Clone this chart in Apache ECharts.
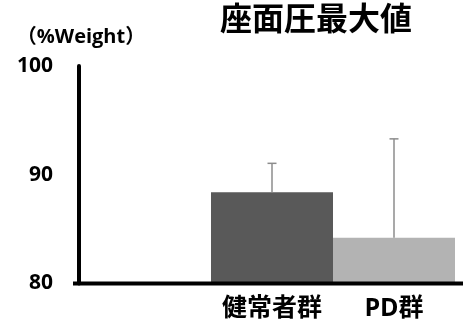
<!DOCTYPE html>
<html>
<head>
<meta charset="utf-8">
<script src="https://cdn.jsdelivr.net/npm/echarts@6/dist/echarts.min.js"></script>
<style>
  html, body { margin: 0; padding: 0; background: #fff; }
  #chart { width: 463px; height: 327px; }
</style>
</head>
<body>
<div id="chart"></div>
<script>
// Groups, mean peak seat pressure (%Weight) and standard deviation
const categories = ['健常者群', 'PD群'];
const means = [88.4, 84.2];
const sds = [2.65, 9.1];
const yTicks = [80, 90, 100];
const barColors = ['#595959', '#b3b3b3'];

const FONT = '"Open Sans", "Noto Sans CJK JP", sans-serif';

const chart = echarts.init(document.getElementById('chart'), null, { renderer: 'canvas' });

const option = {
  backgroundColor: '#ffffff',
  animation: false,
  title: {
    text: '座面圧最大値',
    left: 215,
    top: 0,
    textStyle: { fontFamily: FONT, fontSize: 32, fontWeight: 'bold', color: '#000' }
  },
  grid: { left: 211, right: 8, top: 66, bottom: 43.5 },
  xAxis: {
    type: 'category',
    data: categories,
    axisLine: { show: false },
    axisTick: { show: false },
    axisLabel: {
      interval: 0,
      margin: 13,
      fontFamily: FONT, fontSize: 25, fontWeight: 'bold', color: '#000'
    }
  },
  yAxis: {
    type: 'value',
    min: yTicks[0],
    max: yTicks[yTicks.length - 1],
    interval: 10,
    offset: 132,
    name: '（%Weight）',
    nameLocation: 'end',
    nameGap: 19,
    nameTextStyle: {
      fontFamily: FONT, fontSize: 20, fontWeight: 'bold', color: '#000',
      padding: [0, 0, 0, 4]
    },
    splitLine: { show: false },
    axisTick: { show: false },
    axisLine: { show: true, lineStyle: { color: '#000', width: 4 } },
    axisLabel: {
      margin: 26,
      fontFamily: FONT, fontSize: 21, fontWeight: 'bold', color: '#000'
    }
  },
  series: [
    {
      type: 'bar',
      barWidth: '100%',
      barCategoryGap: '0%',
      data: means.map((v, i) => ({ value: v, itemStyle: { color: barColors[i] } })),
      z: 2
    },
    {
      // upward error whiskers: mean -> mean + sd, with a short cap
      type: 'custom',
      z: 3,
      data: means.map((m, i) => [i, m, sds[i]]),
      renderItem: function (params, api) {
        const idx = api.value(0);
        const m = api.value(1);
        const s = api.value(2);
        const base = api.coord([idx, m]);
        const top = api.coord([idx, m + s]);
        const half = 4.5;
        const st = { stroke: '#8c8c8c', lineWidth: 1.5 };
        return {
          type: 'group',
          children: [
            { type: 'line', shape: { x1: base[0], y1: base[1], x2: top[0], y2: top[1] }, style: st },
            { type: 'line', shape: { x1: top[0] - half, y1: top[1], x2: top[0] + half, y2: top[1] }, style: st }
          ]
        };
      }
    }
  ]
};

chart.setOption(option);

// Baseline across the full width at the axis minimum
const baseY = chart.convertToPixel({ yAxisIndex: 0 }, yTicks[0]);
chart.setOption({
  graphic: [{
    type: 'line',
    z: 10,
    shape: { x1: 73, y1: baseY, x2: 463, y2: baseY },
    style: { stroke: '#000', lineWidth: 4 }
  }]
});
</script>
</body>
</html>
